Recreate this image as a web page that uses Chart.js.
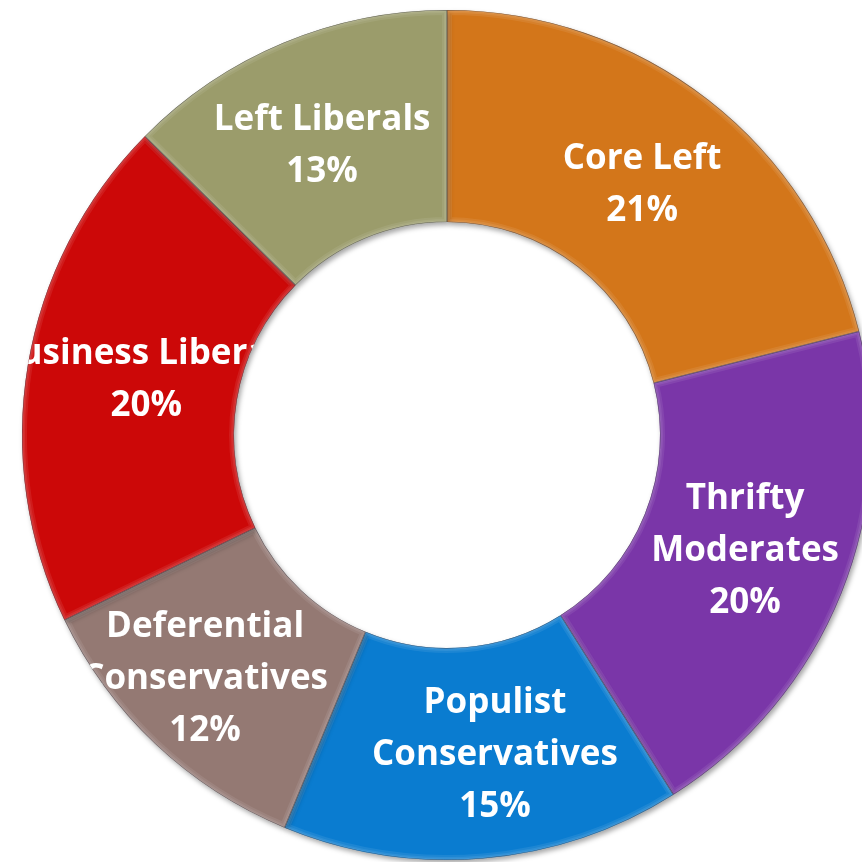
<!DOCTYPE html>
<html>
<head>
<meta charset="utf-8">
<script src="https://cdn.jsdelivr.net/npm/chart.js@4/dist/chart.umd.min.js"></script>
<style>
  html, body { margin: 0; padding: 0; background: #ffffff; overflow: hidden; width: 862px; height: 862px; }
  #wrap { position: absolute; left: 0; top: 0; width: 894px; height: 862px; }
</style>
</head>
<body>
<div id="wrap"><canvas id="c" width="894" height="862"></canvas></div>
<script>
// ---- data ----
const categories = ["Core Left", "Thrifty Moderates", "Populist Conservatives", "Deferential Conservatives", "Business Liberals", "Left Liberals"];
// segment shares (labels show them rounded)
const shares = [21.1, 20.0, 15.2, 11.6, 19.6, 12.6];
const labelLines = [["Core Left"], ["Thrifty", "Moderates"], ["Populist", "Conservatives"], ["Deferential", "Conservatives"], ["Business Liberals"], ["Left Liberals"]];
const colors = ["#D3761A", "#7A36A8", "#0A7CD0", "#947973", "#CC0808", "#9B9C6B"];
// small manual nudges of label placement (px), like hand-moved labels
const labelNudge = [[-1, 2], [2, -3], [21, 2], [-23, 12], [14, -3], [-2, 5]];

const softShadow = {
  id: 'softShadow',
  beforeDatasetsDraw(chart) {
    const ctx = chart.ctx;
    ctx.save();
    ctx.shadowColor = 'rgba(0,0,0,0.35)';
    ctx.shadowBlur = 5;
    ctx.shadowOffsetX = 2;
    ctx.shadowOffsetY = 3;
  },
  afterDatasetsDraw(chart) {
    chart.ctx.restore();
  }
};

function arcPath(ctx, a) {
  ctx.beginPath();
  ctx.arc(a.x, a.y, a.outerRadius, a.startAngle, a.endAngle);
  ctx.arc(a.x, a.y, a.innerRadius, a.endAngle, a.startAngle, true);
  ctx.closePath();
}

const bevel = {
  id: 'bevel',
  afterDatasetsDraw(chart) {
    const ctx = chart.ctx;
    const meta = chart.getDatasetMeta(0);
    meta.data.forEach((a) => {
      ctx.save();
      arcPath(ctx, a);
      ctx.clip();
      [[10, 0.08], [6, 0.08], [3, 0.08]].forEach(([w, al]) => {
        arcPath(ctx, a);
        ctx.lineWidth = w;
        ctx.strokeStyle = 'rgba(255,255,255,' + al + ')';
        ctx.stroke();
      });
      arcPath(ctx, a);
      ctx.lineWidth = 1.2;
      ctx.strokeStyle = 'rgba(50,50,60,0.55)';
      ctx.stroke();
      ctx.restore();
    });
  }
};

const ringLabels = {
  id: 'ringLabels',
  afterDatasetsDraw(chart) {
    const ctx = chart.ctx;
    const meta = chart.getDatasetMeta(0);
    ctx.save();
    const a0 = meta.data[0];
    ctx.beginPath();
    ctx.arc(a0.x, a0.y, a0.outerRadius, 0, Math.PI * 2);
    ctx.arc(a0.x, a0.y, a0.innerRadius, 0, Math.PI * 2, true);
    ctx.clip();
    ctx.fillStyle = '#ffffff';
    ctx.font = 'bold 35px "Open Sans"';
    ctx.textAlign = 'center';
    ctx.textBaseline = 'middle';
    const lh = 52;
    meta.data.forEach((arc, i) => {
      const p = arc.tooltipPosition();
      const lines = labelLines[i].concat([Math.round(shares[i]) + '%']);
      const cx = p.x + labelNudge[i][0];
      const cy = p.y + labelNudge[i][1];
      const top = cy - (lines.length - 1) * lh / 2;
      lines.forEach((t, k) => ctx.fillText(t, cx, top + k * lh));
    });
    ctx.restore();
  }
};

new Chart(document.getElementById('c'), {
  type: 'doughnut',
  data: {
    labels: categories,
    datasets: [{
      data: shares,
      backgroundColor: colors,
      borderColor: 'rgba(70,70,70,0.5)',
      borderWidth: 0
    }]
  },
  options: {
    responsive: false,
    animation: false,
    radius: 425,
    cutout: 213,
    layout: { padding: { left: 22, right: 22, top: 10, bottom: 2 } },
    plugins: { legend: { display: false }, tooltip: { enabled: false } }
  },
  plugins: [softShadow, bevel, ringLabels]
});
</script>
</body>
</html>
